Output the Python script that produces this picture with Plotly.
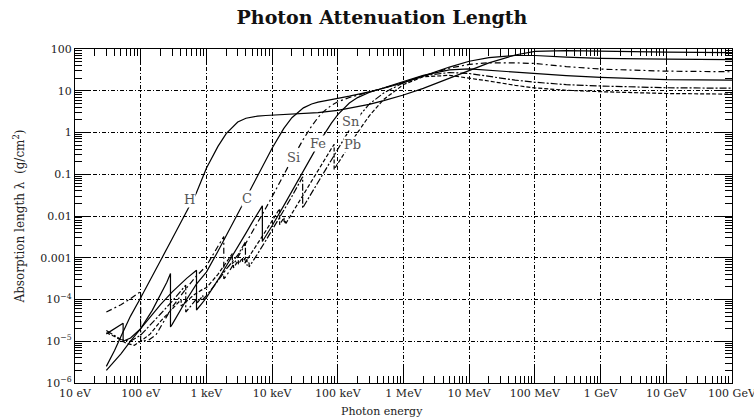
import plotly.graph_objects as go

# Photon energies (eV) and mass attenuation lengths lambda (g/cm^2) per element.
# A repeated energy marks an absorption edge: value just below, then just above.
E_H = [30, 40, 50, 70, 100, 150, 200, 300, 400, 500, 700, 1e3, 1.5e3, 2e3, 3e3, 4e3, 5e3, 6e3, 8e3, 1e4,
       1.5e4, 2e4, 3e4, 5e4, 1e5, 2e5, 3e5, 5e5, 1e6, 2e6, 5e6, 1e7, 2e7, 5e7, 1e8, 3e8, 1e9, 1e10, 1e11]
L_H = [2.5e-6, 6e-6, 1.3e-5, 4e-5, 1.1e-4, 3.8e-4, 8.5e-4, 2.8e-3, 6.5e-3, 0.0125, 0.035, 0.139, 0.466, 0.944, 1.78,
       2.20, 2.385, 2.47, 2.555, 2.595, 2.657, 2.706, 2.80, 2.98, 3.40, 4.12, 4.73, 5.78, 7.92, 11.4, 19.96, 30.7,
       46.4, 71.8, 88, 92, 88, 84, 82]

E_C = [30, 50, 70, 100, 150, 200, 250, 284, 284, 300, 400, 500, 700, 1e3, 1.5e3, 2e3, 3e3, 4e3, 5e3, 6e3, 8e3,
       1e4, 1.5e4, 2e4, 3e4, 4e4, 5e4, 6e4, 8e4, 1e5, 1.5e5, 2e5, 3e5, 5e5, 1e6, 2e6, 5e6, 1e7, 2e7, 5e7, 1e8,
       3e8, 1e9, 1e10, 1e11]
L_C = [2e-6, 5e-6, 1e-5, 2e-5, 5.5e-5, 1.3e-4, 2.6e-4, 4.2e-4, 2.2e-5, 2.5e-5, 5.5e-5, 1e-4, 2.3e-4, 4.52e-4,
       1.43e-3, 3.3e-3, 0.01107, 0.0265, 0.0523, 0.0913, 0.2185, 0.421, 1.239, 2.26, 3.90, 4.82, 5.34, 5.70, 6.21,
       6.60, 7.42, 8.14, 9.38, 11.47, 15.7, 22.5, 37, 51, 62, 70, 70, 64, 60, 57, 56]

E_Si = [30, 50, 70, 99.8, 99.8, 130, 170, 200, 300, 500, 700, 1e3, 1.5e3, 1839, 1839, 2e3, 3e3, 4e3, 5e3, 6e3,
        8e3, 1e4, 1.5e4, 2e4, 3e4, 4e4, 5e4, 6e4, 8e4, 1e5, 1.5e5, 2e5, 3e5, 5e5, 1e6, 2e6, 5e6, 1e7, 2e7, 5e7,
        1e8, 3e8, 1e9, 1e10, 1e11]
L_Si = [5e-5, 7.5e-5, 1.05e-4, 1.55e-4, 1e-5, 1.05e-5, 1.4e-5, 2.2e-5, 6.5e-5, 1.9e-4, 3.6e-4, 6.37e-4, 1.87e-3,
        3.23e-3, 3.13e-4, 3.6e-4, 1.02e-3, 2.21e-3, 4.08e-3, 6.8e-3, 0.0153, 0.0289, 0.0967, 0.224, 0.696, 1.426,
        2.28, 3.12, 4.49, 5.45, 6.91, 7.84, 9.24, 11.44, 15.7, 22.4, 34.9, 42.8, 46.8, 46.6, 45, 38, 33, 29.5, 28.5]

E_Fe = [30, 40, 54, 54, 70, 100, 150, 200, 300, 500, 707, 707, 850, 1e3, 1.5e3, 2e3, 3e3, 4e3, 5e3, 6e3, 7112,
        7112, 8e3, 1e4, 1.5e4, 2e4, 3e4, 4e4, 5e4, 6e4, 8e4, 1e5, 1.5e5, 2e5, 3e5, 5e5, 1e6, 2e6, 5e6, 1e7, 2e7,
        5e7, 1e8, 3e8, 1e9, 1e10, 1e11]
L_Fe = [1.5e-5, 2e-5, 2.7e-5, 1e-5, 1.2e-5, 2e-5, 4.5e-5, 7.5e-5, 1.5e-4, 3.2e-4, 5e-4, 5.6e-5, 8e-5, 1.1e-4,
        2.94e-4, 6.15e-4, 1.79e-3, 3.9e-3, 7.15e-3, 0.01166, 0.01752, 2.45e-3, 3.27e-3, 5.86e-3, 0.01752, 0.0389,
        0.1223, 0.2756, 0.511, 0.83, 1.68, 2.69, 5.09, 6.85, 9.1, 11.9, 16.7, 23.4, 31.8, 33.4, 31, 27.6, 26, 23,
        21, 18.5, 18]

E_Sn = [30, 50, 70, 100, 200, 300, 485, 485, 600, 714, 714, 884, 884, 1e3, 1.5e3, 2e3, 3e3, 3929, 3929, 4156,
        4156, 4465, 4465, 5e3, 6e3, 8e3, 1e4, 1.5e4, 2e4, 29200, 29200, 3e4, 4e4, 5e4, 6e4, 8e4, 1e5, 1.5e5, 2e5,
        3e5, 5e5, 1e6, 2e6, 5e6, 1e7, 2e7, 5e7, 1e8, 3e8, 1e9, 1e10, 1e11]
L_Sn = [1.8e-5, 1.1e-5, 1e-5, 1.4e-5, 4.5e-5, 9e-5, 2.2e-4, 5e-5, 7.5e-5, 1.05e-4, 8e-5, 1.25e-4, 1e-4, 1.23e-4,
        2.8e-4, 5.3e-4, 1.15e-3, 2.4e-3, 8e-4, 9.2e-4, 6.5e-4, 7.6e-4, 6e-4, 7.7e-4, 1.23e-3, 2.56e-3, 4.5e-3,
        0.0135, 0.0294, 0.087, 0.0154, 0.0167, 0.0357, 0.0645, 0.105, 0.227, 0.41, 1.15, 2.22, 4.76, 8.85, 15.6,
        22.9, 27.4, 25.9, 22, 18, 16, 14, 13, 11.8, 11.5]

E_Pb = [30, 40, 60, 80, 100, 140, 200, 300, 413, 413, 500, 650, 850, 1e3, 1.5e3, 2e3, 2484, 2484, 2586, 2586,
        3066, 3066, 3554, 3554, 3851, 3851, 5e3, 6e3, 8e3, 1e4, 13035, 13035, 15200, 15200, 15861, 15861, 2e4,
        3e4, 4e4, 5e4, 6e4, 8e4, 88005, 88005, 1e5, 1.5e5, 2e5, 3e5, 5e5, 1e6, 2e6, 5e6, 1e7, 2e7, 5e7, 1e8,
        3e8, 1e9, 1e10, 1e11]
L_Pb = [1.6e-5, 1.3e-5, 9e-6, 8e-6, 1e-5, 1.5e-5, 3e-5, 6e-5, 1e-4, 7e-5, 9e-5, 1.3e-4, 1.7e-4, 1.92e-4, 4e-4,
        7.8e-4, 1.25e-3, 7.2e-4, 7.8e-4, 5.7e-4, 8.7e-4, 7e-4, 1e-3, 8e-4, 9.7e-4, 7.4e-4, 1.37e-3, 2.14e-3,
        4.38e-3, 7.66e-3, 0.015, 6.2e-3, 9.2e-3, 6.8e-3, 7.6e-3, 6.3e-3, 0.0116, 0.033, 0.0696, 0.124, 0.199,
        0.413, 0.52, 0.13, 0.18, 0.497, 1.0, 2.48, 6.2, 14.1, 21.7, 23.4, 20.1, 17.1, 13.5, 11.7, 10.3, 9.5, 8.6,
        8.3]

ELEMENTS = ["H", "C", "Si", "Fe", "Sn", "Pb"]
ENERGIES = [E_H, E_C, E_Si, E_Fe, E_Sn, E_Pb]
LENGTHS = [L_H, L_C, L_Si, L_Fe, L_Sn, L_Pb]

X_TICKVALS = [1e1, 1e2, 1e3, 1e4, 1e5, 1e6, 1e7, 1e8, 1e9, 1e10, 1e11]
X_TICKTEXT = ["10 eV", "100 eV", "1 keV", "10 keV", "100 keV", "1 MeV", "10 MeV", "100 MeV", "1 GeV",
              "10 GeV", "100 GeV"]
Y_TICKVALS = [1e-6, 1e-5, 1e-4, 1e-3, 1e-2, 1e-1, 1, 10, 100]
Y_TICKTEXT = ["10<sup>\u22126</sup>", "10<sup>\u22125</sup>", "10<sup>\u22124</sup>", "0.001", "0.01", "0.1",
              "1", "10", "100"]

# curve label placement as (log10 E, log10 lambda)
LABEL_POS = {"H": (2.75, -1.60), "C": (3.62, -1.58), "Si": (4.33, -0.60), "Fe": (4.70, -0.26),
             "Sn": (5.20, 0.27), "Pb": (5.23, -0.29)}

DASHES = {"H": "solid", "C": "solid", "Si": "6px,3px,2px,3px", "Fe": "solid",
          "Sn": "7px,2px,2px,2px", "Pb": "4px,2px"}

SERIF = "DejaVu Serif"
X_RANGE = [1, 11.0005]
Y_RANGE = [-6.0005, 2.0005]


def minor_vals(lo, hi):
    vals = []
    for p in range(lo, hi):
        for k in range(2, 10):
            vals.append(k * 10.0 ** p)
    return vals


fig = go.Figure()
for name, e, lam in zip(ELEMENTS, ENERGIES, LENGTHS):
    fig.add_trace(go.Scatter(x=e, y=lam, mode="lines", name=name,
                             line=dict(color="black", width=1.2, dash=DASHES[name])))

# empty trace that carries the mirrored top/right tick axes
fig.add_trace(go.Scatter(x=[], y=[], xaxis="x2", yaxis="y2", showlegend=False, hoverinfo="skip"))

# element labels sit on a white patch that breaks the curves beneath them
for name in ELEMENTS:
    lx, ly = LABEL_POS[name]
    fig.add_annotation(x=lx, y=ly, xref="x", yref="y", text=name, showarrow=False,
                       bgcolor="white", borderpad=0,
                       font=dict(family=SERIF, size=13, color="#555555"))

tick_style = dict(type="log", ticks="inside", ticklen=15, tickwidth=1, tickcolor="black", zeroline=False,
                  automargin=False)
xminor = dict(tickmode="array", tickvals=minor_vals(1, 11), ticks="inside", ticklen=7,
              tickcolor="black", showgrid=False)
yminor = dict(tickmode="array", tickvals=minor_vals(-6, 2), ticks="inside", ticklen=7,
              tickcolor="black", showgrid=False)
label_font = dict(family=SERIF, size=11, color="#222222")

fig.update_layout(
    width=754, height=419,
    margin=dict(l=75, r=22, t=49, b=36),
    paper_bgcolor="white", plot_bgcolor="white",
    showlegend=False,
    title=dict(text="<b>Photon Attenuation Length</b>", x=0.5066, xanchor="center", y=0.958,
               yanchor="middle", xref="container", yref="container",
               font=dict(family=SERIF, size=19, color="#111111")),
    xaxis=dict(range=X_RANGE, tickmode="array", tickvals=X_TICKVALS, ticktext=X_TICKTEXT, minor=xminor,
               showline=True, linecolor="black", linewidth=1.3, mirror=True, ticklabeloverflow="allow",
               showgrid=True, gridcolor="black", gridwidth=1, griddash="4px,2px,1px,2px",
               tickfont=label_font, **tick_style),
    yaxis=dict(range=Y_RANGE, tickmode="array", tickvals=Y_TICKVALS, ticktext=Y_TICKTEXT, minor=yminor,
               showline=True, linecolor="black", linewidth=1.3, mirror=True,
               showgrid=True, gridcolor="black", gridwidth=1, griddash="4px,2px,1px,2px",
               tickfont=label_font,
               title=dict(text="Absorption length \u03bb  (g/cm<sup>2</sup>)",
                          font=dict(family=SERIF, size=12, color="#222222"), standoff=12),
               **tick_style),
    xaxis2=dict(range=X_RANGE, overlaying="x", side="top", anchor="y2", tickmode="array",
                tickvals=X_TICKVALS, minor=xminor, showticklabels=False, showgrid=False, showline=False,
                **tick_style),
    yaxis2=dict(range=Y_RANGE, overlaying="y", side="right", anchor="x2", tickmode="array",
                tickvals=Y_TICKVALS, minor=yminor, showticklabels=False, showgrid=False, showline=False,
                **tick_style),
)

fig.add_annotation(x=0.467, y=-0.085, xref="paper", yref="paper", text="Photon energy", showarrow=False,
                   yanchor="middle", font=label_font)

fig.write_html("out.html")
